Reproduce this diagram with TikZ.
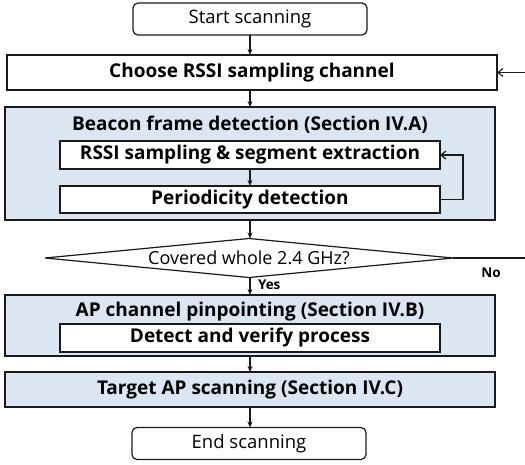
\documentclass[tikz,border=0pt]{standalone}
\usepackage{fontspec}
\setmainfont{Open Sans}
\usetikzlibrary{shapes.geometric,arrows.meta}
\definecolor{boxblue}{HTML}{DCE6F2}
\definecolor{linegray}{HTML}{1A1A1A}
\begin{document}
\begin{tikzpicture}[x=1pt,y=-1pt,
  every node/.style={inner sep=0pt, outer sep=0pt},
  base/.style={draw=linegray, line width=1.2pt},
  termbox/.style={base, rectangle, rounded corners=5pt, fill=white, minimum width=234pt, minimum height=32pt, font=\fontsize{18.5}{21}\selectfont},
  plainbox/.style={base, rectangle, fill=white, font=\bfseries\fontsize{19}{22}\selectfont},
  groupbox/.style={base, rectangle, fill=boxblue},
  titletext/.style={font=\bfseries\fontsize{19}{22}\selectfont},
  smalllabel/.style={font=\bfseries\fontsize{13.5}{16}\selectfont},
  flow/.style={draw=linegray, line width=1.2pt, -{Stealth[length=6pt,width=5pt]}},
  back/.style={draw=linegray, line width=1.2pt, -{Straight Barb[length=5pt,width=8pt]}},
  plainline/.style={draw=linegray, line width=1.2pt}]
\useasboundingbox (0,0) rectangle (525,464);

\node[termbox] (start) at (250,19) {Start scanning};
\node[plainbox, minimum width=490pt, minimum height=35pt] (choose) at (252,72.5) {Choose RSSI sampling channel};

\node[groupbox, minimum width=490pt, minimum height=113pt] (beacon) at (250,163.5) {};
\node[titletext] (beacontitle) at (250,124.5) {Beacon frame detection (Section IV.A)};
\node[plainbox, minimum width=380pt, minimum height=28pt] (rssi) at (250,155) {RSSI sampling \& segment extraction};
\node[plainbox, minimum width=380pt, minimum height=27pt] (period) at (250,199.5) {Periodicity detection};

\node[base, shape=diamond, shape aspect=10, fill=white, minimum width=408pt, minimum height=39pt, font=\fontsize{18}{21}\selectfont] (cover) at (249,258) {Covered whole 2.4 GHz?};

\node[groupbox, minimum width=490pt, minimum height=61pt] (ap) at (250,325.5) {};
\node[titletext] (aptitle) at (250,311.5) {AP channel pinpointing (Section IV.B)};
\node[plainbox, minimum width=380pt, minimum height=28pt] (detect) at (250,338) {Detect and verify process};

\node[groupbox, minimum width=490pt, minimum height=35pt, titletext] (target) at (250,389.5) {Target AP scanning (Section IV.C)};

\node[termbox] (end) at (249,443.5) {End scanning};

\coordinate (noend) at (525,258);
\coordinate (backin) at (525,72.5);

\draw[flow] (start.south) -- (start.south |- choose.north);
\draw[flow] (choose.south -| beacon.north) -- (beacon.north);
\draw[flow] (rssi.south) -- (period.north);
\draw[flow] (beacon.south) -- (beacon.south |- cover.north);
\draw[flow] (beacon.south |- cover.south) -- (ap.north);
\draw[flow] (ap.south) -- (target.north);
\draw[flow] (target.south) -- (target.south |- end.north);
\draw[back] (period.east) -- ++(23,0) |- (rssi.east);
\draw[plainline] (cover.east) -- (noend);
\draw[back] (backin) -- (choose.east);

\node[smalllabel, anchor=west] (yes) at (258,285) {Yes};
\node[smalllabel] (no) at (491,273) {No};
\end{tikzpicture}
\end{document}
